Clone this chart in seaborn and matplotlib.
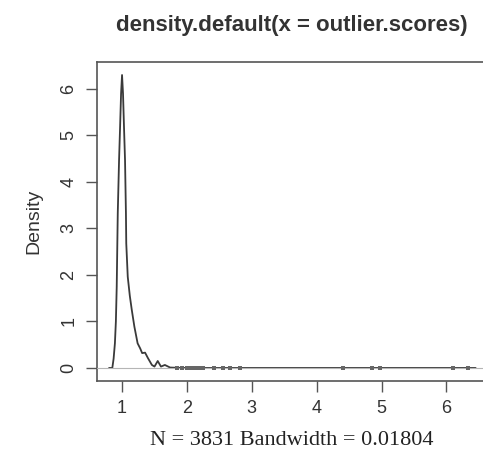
import matplotlib
matplotlib.use("Agg")
import matplotlib.pyplot as plt
import seaborn as sns
import pandas as pd

# density curve
curve_x = [0.80, 0.85, 0.87, 0.89, 0.905, 0.918, 0.934, 0.954, 0.97, 0.985, 1.0,
           1.015, 1.03, 1.046, 1.06, 1.065, 1.088, 1.12, 1.15, 1.19, 1.24, 1.28,
           1.31, 1.355, 1.40, 1.46, 1.50, 1.55, 1.60, 1.66, 1.74, 1.85, 2.0, 6.45]
curve_y = [0.0, 0.0, 0.2, 0.53, 1.0, 1.75, 3.33, 4.47, 5.19, 5.9, 6.30,
           5.9, 5.19, 4.47, 3.33, 2.68, 1.96, 1.55, 1.25, 0.89, 0.53, 0.42,
           0.32, 0.33, 0.21, 0.065, 0.03, 0.15, 0.03, 0.065, 0.01, 0.004, 0.0, 0.0]
# isolated outliers (tiny bumps along the zero line)
tail_x = [1.85, 1.92, 2.0, 2.06, 2.1, 2.14, 2.18, 2.25, 2.41, 2.55, 2.67, 2.82,
          4.40, 4.86, 4.98, 6.10, 6.34]

x_ticks = [1, 2, 3, 4, 5, 6]
y_ticks = [0, 1, 2, 3, 4, 5, 6]

df = pd.DataFrame({"x": curve_x, "y": curve_y})
tail = pd.DataFrame({"x": tail_x, "y": [0.0] * len(tail_x)})

sns.set_style("white")
plt.rcParams["font.family"] = ["Liberation Sans", "DejaVu Sans"]

fig = plt.figure(figsize=(4.83, 4.71), dpi=100)
ax = fig.add_axes([97 / 483, 1 - 381 / 471, (486 - 97) / 483, (381 - 62) / 471])

sns.lineplot(data=df, x="x", y="y", ax=ax, color="#3a3a3a", linewidth=1.3, sort=False)
sns.scatterplot(data=tail, x="x", y="y", ax=ax, color="#666666", s=5, marker="s",
                linewidth=0, zorder=4)
ax.axhline(0, color="#b5b5b5", linewidth=0.8, zorder=3)

ax.set_xlim(0.614, 6.61)
ax.set_ylim(-0.28, 6.58)
ax.set_xticks(x_ticks)
ax.set_yticks(y_ticks)
ax.set_xticklabels([str(t) for t in x_ticks], fontsize=13, color="#333333")
ax.set_yticklabels([str(t) for t in y_ticks], fontsize=13, color="#333333",
                   rotation=90, va="center")
ax.tick_params(axis="both", bottom=True, left=True, direction="out",
               length=8, width=1, color="#555555", pad=6)

for s in ax.spines.values():
    s.set_color("#555555")
    s.set_linewidth(1.2)

ax.set_ylabel("Density", fontsize=14, color="#333333", labelpad=13)
ax.set_xlabel("N = 3831 Bandwidth = 0.01804", fontsize=16, color="#222222",
              family=["Liberation Serif", "DejaVu Serif"], labelpad=10)
fig.text(292 / 483, 1 - 25 / 471, "density.default(x = outlier.scores)",
         fontsize=16, fontweight="bold", color="#333333", ha="center", va="center")

fig.savefig("out.png", dpi=100)
